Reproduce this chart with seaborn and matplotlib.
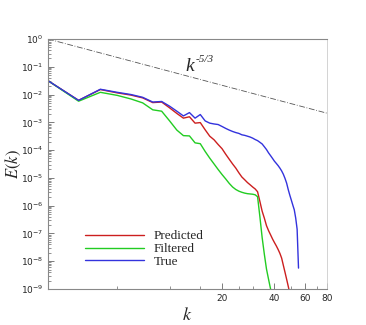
import numpy as np
import pandas as pd
import matplotlib
matplotlib.use("Agg")
import matplotlib.pyplot as plt
import matplotlib.ticker as mticker
import seaborn as sns

# wavenumbers and log10 of the spectra
k_true = list(range(2, 56))
logE_true = [-1.50, -2.21, -1.81, -1.92, -2.00, -2.10, -2.27, -2.25, -2.42, -2.60,
             -2.77, -2.65, -2.85, -2.72, -2.95, -3.03, -3.06, -3.08, -3.15, -3.22,
             -3.28, -3.33, -3.37, -3.40, -3.45, -3.47, -3.50, -3.53, -3.57, -3.62,
             -3.66, -3.72, -3.78, -3.88, -3.98, -4.10, -4.20, -4.30, -4.40, -4.48,
             -4.56, -4.65, -4.75, -4.87, -5.02, -5.19, -5.42, -5.62, -5.80, -5.98,
             -6.15, -6.45, -6.85, -8.25]

k_pred = list(range(2, 50))
logE_pred = [-1.50, -2.21, -1.82, -1.94, -2.02, -2.12, -2.29, -2.27, -2.48, -2.68,
             -2.85, -2.80, -3.03, -3.01, -3.27, -3.50, -3.63, -3.80, -3.95, -4.15,
             -4.33, -4.50, -4.65, -4.82, -4.97, -5.07, -5.17, -5.25, -5.33, -5.40,
             -5.50, -5.85, -6.20, -6.45, -6.72, -6.90, -7.05, -7.20, -7.33, -7.45,
             -7.58, -7.72, -7.89, -8.15, -8.40, -8.65, -8.90, -9.15]

k_filt = list(range(2, 40))
logE_filt = [-1.50, -2.24, -1.92, -2.03, -2.16, -2.30, -2.55, -2.60, -2.95, -3.28,
             -3.48, -3.49, -3.74, -3.77, -4.05, -4.29, -4.50, -4.70, -4.88, -5.04,
             -5.20, -5.33, -5.42, -5.48, -5.52, -5.55, -5.57, -5.58, -5.59, -5.61,
             -5.68, -6.40, -7.15, -7.75, -8.28, -8.65, -9.00, -9.30]

k_ref = [2, 80]

sns.set_style("ticks")
plt.rcParams['font.family'] = ['DejaVu Sans']
plt.rcParams['mathtext.fontset'] = 'stix'

fig = plt.figure(figsize=(3.66, 3.25), dpi=100)
ax = fig.add_axes([0.131, 0.111, 0.762, 0.769])

# reference slope line E = (k/2)^(-5/3)
ref = pd.DataFrame({'k': k_ref, 'E': [(kk / 2.0) ** (-5.0 / 3.0) for kk in k_ref]})
ax.plot(ref['k'], ref['E'], color='#555555', lw=0.6, dashes=(7, 2, 1, 2))

sns.lineplot(x=k_pred, y=10.0 ** np.array(logE_pred), color='#cc1f1f', lw=1.0,
             label='Predicted', ax=ax)
sns.lineplot(x=k_filt, y=10.0 ** np.array(logE_filt), color='#22cc22', lw=1.0,
             label='Filtered', ax=ax)
sns.lineplot(x=k_true, y=10.0 ** np.array(logE_true), color='#3333dd', lw=1.0,
             label='True', ax=ax)

ax.set_xscale('log')
ax.set_yscale('log')
ax.set_xlim(2, 80)
ax.set_ylim(1e-9, 1)

ax.xaxis.set_major_locator(mticker.FixedLocator([20, 40, 60, 80]))
ax.xaxis.set_major_formatter(mticker.FixedFormatter(['20', '40', '60', '80']))
ax.xaxis.set_minor_locator(mticker.FixedLocator([5, 10, 15, 25, 30, 50, 70]))
ax.xaxis.set_minor_formatter(mticker.NullFormatter())

ax.yaxis.set_major_locator(mticker.LogLocator(base=10, numticks=12))
ax.yaxis.set_minor_locator(mticker.LogLocator(base=10, subs=np.arange(2, 10), numticks=12))
ax.yaxis.set_minor_formatter(mticker.NullFormatter())

ax.tick_params(which='both', direction='in', labelsize=6.5, color='#666666')
ax.tick_params(which='major', length=4, width=0.6)
ax.tick_params(which='minor', length=2.5, width=0.5)

for side in ['left', 'bottom', 'top']:
    ax.spines[side].set_color('#888888')
    ax.spines[side].set_linewidth(0.8)
ax.spines['right'].set_color('#cccccc')
ax.spines['right'].set_linewidth(0.6)

ax.set_xlabel('$k$', fontsize=13, labelpad=2)
ax.set_ylabel('$E(k)$', fontsize=12, labelpad=-2)

# slope label: italic k with a small italic exponent
ax.text(12.4, 0.105, 'k', fontsize=14, style='italic', family='Liberation Serif',
        ha='left', va='center')
ax.text(14.1, 0.19, '-5/3', fontsize=8, style='italic', family='Liberation Serif',
        ha='left', va='center')

ax.legend(loc='upper left', bbox_to_anchor=(0.09, 0.283), frameon=False,
          handlelength=4.5, handletextpad=0.7, labelspacing=0.05,
          prop={'family': 'Liberation Serif', 'size': 9.5})

plt.savefig('out.png', dpi=100)
plt.close()
